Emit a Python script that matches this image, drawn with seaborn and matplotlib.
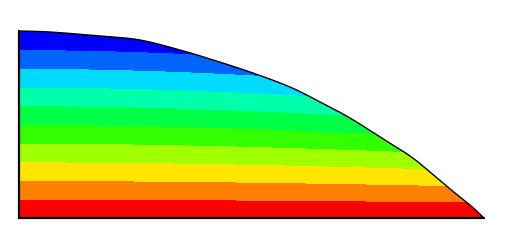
import numpy as np
import matplotlib
matplotlib.use("Agg")
import matplotlib.pyplot as plt
import seaborn as sns
from matplotlib.patches import Polygon

# Outline of the domain (top curve), in pixel-like data units
top_x = [0, 31, 81, 121, 161, 191, 231, 271, 301, 331, 361, 391, 411, 431, 451, 465]
top_y = [187, 186, 182, 178, 168, 159, 146, 131, 116, 100, 81, 62, 46, 29, 13, 0]

# Contour levels (normalised height) and band colours (bottom -> top)
levels = [0.0, 0.1, 0.2, 0.3, 0.4, 0.5, 0.6, 0.7, 0.8, 0.9, 1.02]
band_colors = ["#ff0000", "#ff8000", "#ffe600", "#a0ff00", "#32ff00",
               "#00ff46", "#00ffaa", "#00dcff", "#0064ff", "#0000ff"]
tilt = 0.18

sns.set_style("white")

W, H = 509, 245
fig = plt.figure(figsize=(W / 100, H / 100), dpi=100)
ax = fig.add_axes([19 / W, (H - 218) / H, 465 / W, 187 / H])

width = max(top_x)
height = max(top_y)
gx = np.linspace(0, width, 700)
gy = np.linspace(0, height, 300)
X, Y = np.meshgrid(gx, gy)
h = Y / height
s = X / width
Z = h * (1 + tilt * s ** 2)

cs = ax.contourf(X, Y, Z, levels=levels, colors=band_colors)

# Smooth outline via a Catmull-Rom pass through the read points
px = np.array(top_x, float)
py = np.array(top_y, float)
P = np.column_stack([px, py])
Pe = np.vstack([2 * P[0] - P[1], P, 2 * P[-1] - P[-2]])
curve = []
for i in range(1, len(Pe) - 2):
    p0, p1, p2, p3 = Pe[i - 1], Pe[i], Pe[i + 1], Pe[i + 2]
    for t in np.linspace(0, 1, 20, endpoint=False):
        t2, t3 = t * t, t * t * t
        pt = 0.5 * ((2 * p1) + (-p0 + p2) * t +
                    (2 * p0 - 5 * p1 + 4 * p2 - p3) * t2 +
                    (-p0 + 3 * p1 - 3 * p2 + p3) * t3)
        curve.append(pt)
curve.append(P[-1])
curve = np.array(curve)

poly_pts = np.vstack([[0, 0], curve, [0, 0]])
clip = Polygon(poly_pts, closed=True, transform=ax.transData,
               facecolor="none", edgecolor="none")
ax.add_patch(clip)
cs.set_clip_path(clip)

# Outline
ax.plot([width, 0, 0], [0, 0, height], color="black", lw=1.6,
        clip_on=False, solid_joinstyle="miter")
ax.plot(curve[:, 0], curve[:, 1], color="black", lw=1.0, clip_on=False)

ax.set_xlim(0, width)
ax.set_ylim(0, height)
ax.set_axis_off()

fig.savefig("out.png", dpi=100)
